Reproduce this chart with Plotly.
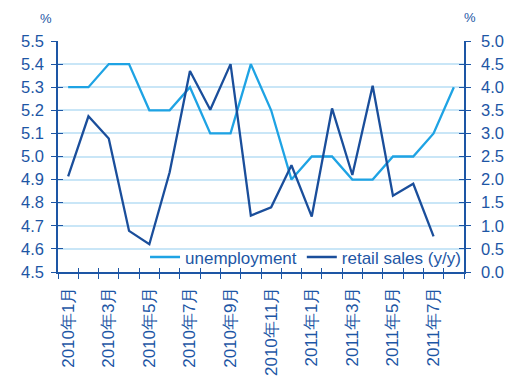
import plotly.graph_objects as go

months = ["2010年1月", "2010年2月", "2010年3月", "2010年4月", "2010年5月", "2010年6月",
          "2010年7月", "2010年8月", "2010年9月", "2010年10月", "2010年11月", "2010年12月",
          "2011年1月", "2011年2月", "2011年3月", "2011年4月", "2011年5月", "2011年6月",
          "2011年7月", "2011年8月"]
unemployment = [5.3, 5.3, 5.4, 5.4, 5.2, 5.2, 5.3, 5.1, 5.1, 5.4,
                5.2, 4.9, 5.0, 5.0, 4.9, 4.9, 5.0, 5.0, 5.1, 5.3]
retail_sales = [2.07, 3.37, 2.89, 0.89, 0.60, 2.16, 4.35, 3.51, 4.50, 1.22,
                1.40, 2.31, 1.20, 3.54, 2.10, 4.03, 1.65, 1.91, 0.77, None]
left_ticks = [4.5, 4.6, 4.7, 4.8, 4.9, 5.0, 5.1, 5.2, 5.3, 5.4, 5.5]
right_ticks = [0.0, 0.5, 1.0, 1.5, 2.0, 2.5, 3.0, 3.5, 4.0, 4.5, 5.0]

idx = list(range(len(months)))
label_idx = idx[::2]
label_text = [months[i] for i in label_idx]
bounds = [i - 0.5 for i in range(len(months) + 1)]

AX = "#1d56a5"
LIGHT = "#1ea3e4"
DARK = "#1a4e9b"
GRID = "#c9e6f7"
FAM = "Liberation Sans, Arial, sans-serif"
FONT = dict(family=FAM, size=16.5, color=AX)

fig = go.Figure()
fig.add_trace(go.Scatter(x=idx, y=unemployment, mode="lines", name="unemployment",
                         line=dict(color=LIGHT, width=2.3), xaxis="x", yaxis="y"))
fig.add_trace(go.Scatter(x=idx, y=retail_sales, mode="lines", name="retail sales (y/y)",
                         line=dict(color=DARK, width=2.3), xaxis="x", yaxis="y2"))
# empty helper traces so overlay tick axes render
fig.add_trace(go.Scatter(x=[], y=[], xaxis="x2", yaxis="y3", showlegend=False))
fig.add_trace(go.Scatter(x=[], y=[], xaxis="x2", yaxis="y4", showlegend=False))

xr = [-0.5, len(months) - 0.5]
fig.update_layout(
    width=516, height=392,
    margin=dict(l=58, r=43, t=41, b=120),
    paper_bgcolor="white", plot_bgcolor="white",
    font=FONT,
    showlegend=True,
    legend=dict(orientation="h", x=1.005, xanchor="right", y=-0.015, yanchor="bottom",
                bgcolor="rgba(0,0,0,0)", font=dict(family=FAM, size=17, color=AX),
                itemwidth=30, tracegroupgap=0, traceorder="normal"),
    # white band behind the legend hides the 4.6 gridline (drawn under the traces)
    shapes=[dict(type="rect", xref="paper", yref="y", x0=0.2, x1=0.995, y0=4.55, y1=4.65,
                 fillcolor="white", line=dict(width=0), layer="between")],
    xaxis=dict(range=xr, tickmode="array", tickvals=label_idx, ticktext=label_text,
               tickangle=-90, ticks="", showgrid=False, zeroline=False,
               showline=True, linecolor=AX, linewidth=1.5,
               minor=dict(tickmode="array", tickvals=bounds, ticks="outside",
                          ticklen=5, tickcolor=AX, tickwidth=1.2, showgrid=False),
               tickfont=dict(family=FAM, size=17, color=AX), anchor="y",
               ticklabelstandoff=6),
    xaxis2=dict(range=xr, overlaying="x", anchor="y", tickmode="array", tickvals=bounds,
                ticks="inside", ticklen=4, tickcolor=AX, tickwidth=1.2,
                showticklabels=False, showgrid=False, zeroline=False, showline=False),
    yaxis=dict(range=[4.5, 5.5], tickmode="array", tickvals=left_ticks, tickformat=".1f",
               ticks="outside", ticklen=5, tickcolor=AX, tickwidth=1.2,
               showgrid=True, gridcolor=GRID, gridwidth=1.5, zeroline=False,
               showline=True, linecolor=AX, linewidth=1.5, tickfont=FONT,
               ticklabelstandoff=4),
    yaxis2=dict(range=[0, 5], overlaying="y", side="right", tickmode="array",
                tickvals=right_ticks, tickformat=".1f", ticks="outside", ticklen=5,
                tickcolor=AX, tickwidth=1.2, showgrid=False, zeroline=False,
                showline=True, linecolor=AX, linewidth=1.5, tickfont=FONT,
                ticklabelstandoff=7),
    yaxis3=dict(range=[4.5, 5.5], overlaying="y", side="left", tickmode="array",
                tickvals=left_ticks, ticks="inside", ticklen=5, tickcolor=AX, tickwidth=1.2,
                showticklabels=False, showgrid=False, zeroline=False, showline=False),
    yaxis4=dict(range=[0, 5], overlaying="y", side="right", tickmode="array",
                tickvals=right_ticks, ticks="inside", ticklen=5, tickcolor=AX, tickwidth=1.2,
                showticklabels=False, showgrid=False, zeroline=False, showline=False),
    annotations=[
        dict(text="%", xref="paper", yref="paper", x=-0.03, y=1.055, xanchor="center",
             yanchor="bottom", showarrow=False, font=dict(family=FAM, size=13, color=AX)),
        dict(text="%", xref="paper", yref="paper", x=1.015, y=1.06, xanchor="center",
             yanchor="bottom", showarrow=False, font=dict(family=FAM, size=13, color=AX)),
    ],
)
fig.write_html("out.html")
